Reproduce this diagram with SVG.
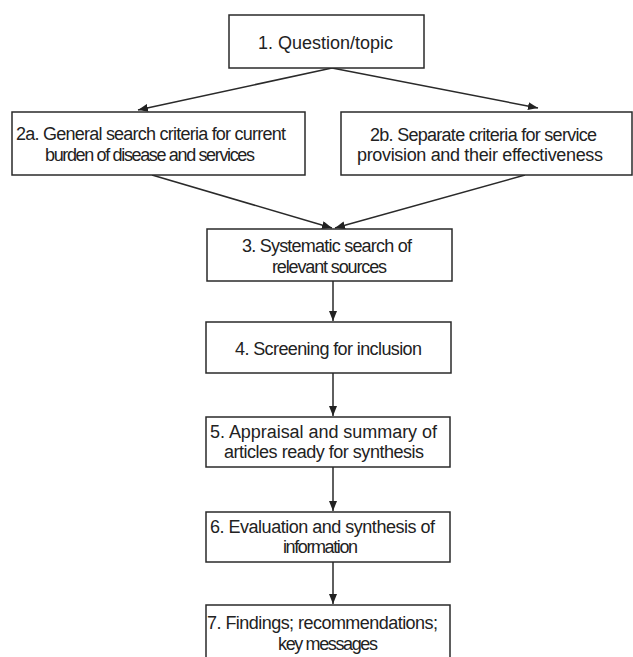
<svg xmlns="http://www.w3.org/2000/svg" width="633" height="657" viewBox="0 0 633 657">
<style>
.box{fill:#fff;stroke:#2a2a2a;stroke-width:1.5}
.t{font-family:"Liberation Sans",Arial,sans-serif;font-size:18px;fill:#222;text-anchor:middle}
.c{stroke:#2a2a2a;stroke-width:1.5;fill:none;marker-end:url(#ah)}
</style>
<defs>
<marker id="ah" viewBox="0 0 10 8" refX="10" refY="4" markerWidth="10" markerHeight="8" markerUnits="userSpaceOnUse" orient="auto">
<path d="M0,0 L10,4 L0,8 Z" fill="#222"/>
</marker>
</defs>
<rect width="633" height="657" fill="#fff"/>
<g id="connectors">
<line class="c" x1="332" y1="68" x2="138" y2="110"/>
<line class="c" x1="332" y1="68" x2="538" y2="108"/>
<line class="c" x1="152" y1="175" x2="332" y2="228"/>
<line class="c" x1="525" y1="175" x2="335" y2="228"/>
<line class="c" x1="333" y1="281" x2="333" y2="321"/>
<line class="c" x1="333" y1="373" x2="333" y2="416"/>
<line class="c" x1="333" y1="467" x2="333" y2="511"/>
<line class="c" x1="333" y1="562" x2="333" y2="604"/>
</g>
<g id="n1">
<rect class="box" x="229" y="15" width="195" height="53"/>
<text class="t" x="325.5" y="49" textLength="135">1. Question/topic</text>
</g>
<g id="n2a">
<rect class="box" x="12" y="112" width="293" height="63"/>
<text class="t" x="151" y="140" textLength="270">2a. General search criteria for current</text>
<text class="t" x="150" y="161" textLength="210">burden of disease and services</text>
</g>
<g id="n2b">
<rect class="box" x="341" y="112" width="291" height="63"/>
<text class="t" x="483.5" y="141" textLength="227">2b. Separate criteria for service</text>
<text class="t" x="480" y="161" textLength="246">provision and their effectiveness</text>
</g>
<g id="n3">
<rect class="box" x="207" y="229" width="245" height="52"/>
<text class="t" x="327" y="252" textLength="170">3. Systematic search of</text>
<text class="t" x="329.5" y="273" textLength="115">relevant sources</text>
</g>
<g id="n4">
<rect class="box" x="206" y="322" width="245" height="51"/>
<text class="t" x="328.5" y="355" textLength="187">4. Screening for inclusion</text>
</g>
<g id="n5">
<rect class="box" x="206" y="417" width="244" height="50"/>
<text class="t" x="323.5" y="438" textLength="227">5. Appraisal and summary of</text>
<text class="t" x="324" y="458" textLength="200">articles ready for synthesis</text>
</g>
<g id="n6">
<rect class="box" x="206" y="512" width="244" height="50"/>
<text class="t" x="322.5" y="533" textLength="225">6. Evaluation and synthesis of</text>
<text class="t" x="320.5" y="553" textLength="75">information</text>
</g>
<g id="n7">
<rect class="box" x="206" y="605" width="244" height="60"/>
<text class="t" x="322.5" y="629" textLength="231">7. Findings; recommendations;</text>
<text class="t" x="328" y="650" textLength="100">key messages</text>
</g>
</svg>
